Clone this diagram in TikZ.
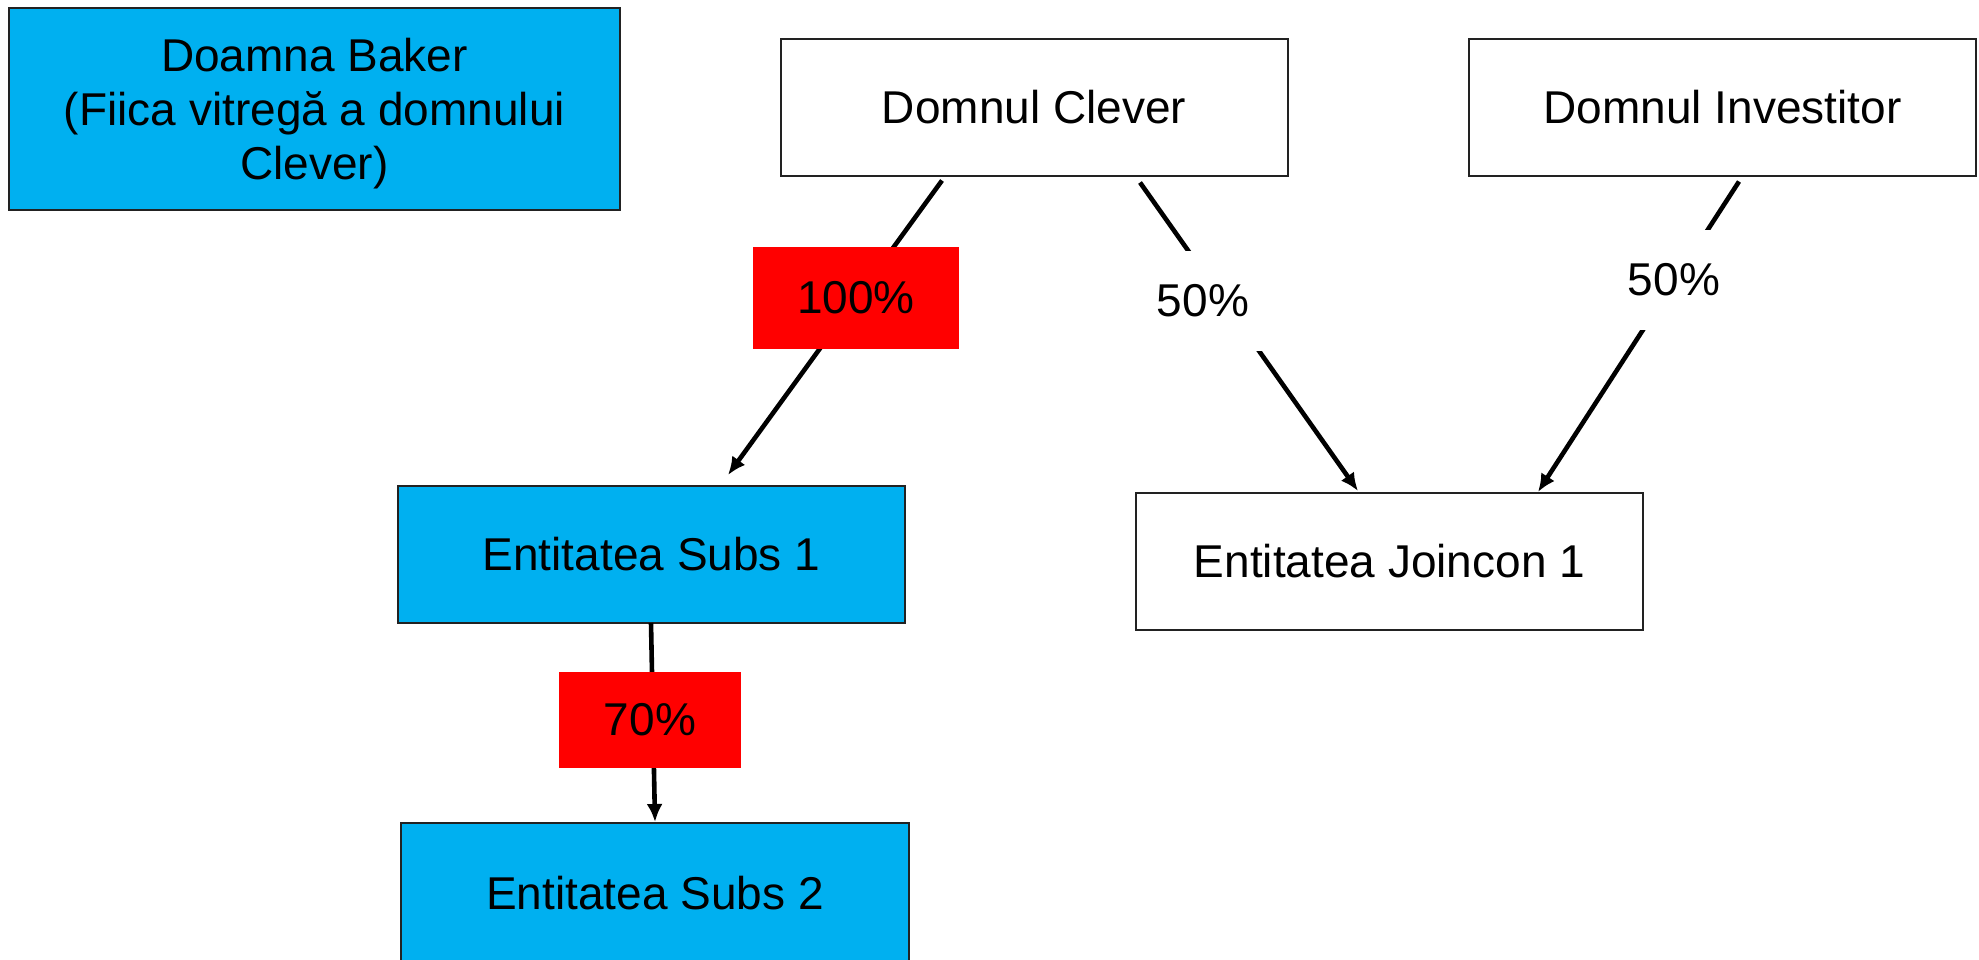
\documentclass[tikz,border=0pt]{standalone}
\usepackage{fontspec}
\setmainfont{Liberation Sans}
\usetikzlibrary{arrows.meta}
\definecolor{boxblue}{HTML}{00B0F0}
\definecolor{boxred}{HTML}{FF0000}
\definecolor{edgegray}{HTML}{222222}
\begin{document}
\begin{tikzpicture}[x=0.5pt,y=-0.5pt,
  every node/.style={font=\fontsize{23}{27}\selectfont, inner sep=0pt, outer sep=0pt},
  entity/.style={draw=edgegray, line width=1pt, minimum width=253.5pt, minimum height=68.5pt, align=center},
  blueentity/.style={entity, fill=boxblue},
  whiteentity/.style={entity, fill=white},
  pct/.style={fill=boxred},
  pctplain/.style={fill=white, minimum width=80pt, minimum height=50pt},
  link/.style={line width=2.3pt, -{Latex[length=9pt,width=8pt]}},
]
\useasboundingbox (0,0) rectangle (1979,959);
\fill[white] (0,0) rectangle (1979,959);

\node[blueentity, minimum width=305.5pt, minimum height=101pt] (baker) at (314.5,109)
  {\rule{0pt}{21pt}Doamna Baker\\(Fiica vitreg\u{a} a domnului\\Clever)};
\node[whiteentity] (clever) at (1034,107) {Domnul Clever};
\node[whiteentity] (investitor) at (1722.5,107) {Domnul Investitor};
\node[blueentity] (subs1) at (651.5,554.5) {Entitatea Subs 1};
\node[whiteentity] (joincon) at (1389.5,561.5) {Entitatea Joincon 1};
\node[blueentity, minimum width=254pt, minimum height=70pt] (subs2) at (655,893) {Entitatea Subs 2};

\draw[link] ([xshift=-46pt,yshift=-2.5pt]clever.south) -- ([xshift=38.25pt,yshift=5.5pt]subs1.north);
\draw[link] ([xshift=53pt,yshift=-3.5pt]clever.south) -- ([xshift=-15.75pt,yshift=1pt]joincon.north);
\draw[link] ([xshift=8.25pt,yshift=-3pt]investitor.south) -- ([xshift=74.25pt,yshift=0.5pt]joincon.north);
\draw[link] ([xshift=-0.25pt]subs1.south) -- ([yshift=0.5pt]subs2.north);

\node[pct, minimum width=103pt, minimum height=51pt] (p100) at (856,298) {100\%};
\node[pct, minimum width=91pt, minimum height=48pt] (p70) at (650,720) {70\%};
\node[pctplain] (l50a) at (1203,301) {50\%};
\node[pctplain] (l50b) at (1674,280) {50\%};
\end{tikzpicture}
\end{document}
